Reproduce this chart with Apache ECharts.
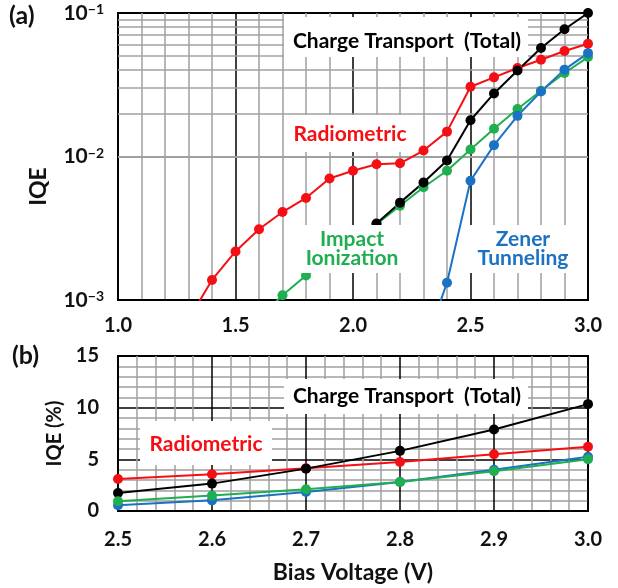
<!DOCTYPE html>
<html>
<head>
<meta charset="utf-8">
<script src="https://cdn.jsdelivr.net/npm/echarts@6/dist/echarts.min.js"></script>
<style>
html,body{margin:0;padding:0;background:#fff;}
#chart{width:618px;height:588px;}
</style>
</head>
<body>
<div id="chart"></div>
<script>
// ---------- data ----------
// (a) log-scale panel: bias voltage (V) and IQE (fraction)
const radiometricV = [1.3, 1.4, 1.5, 1.6, 1.7, 1.8, 1.9, 2.0, 2.1, 2.2, 2.3, 2.4, 2.5, 2.6, 2.7, 2.8, 2.9, 3.0];
const radiometricA = [7.3e-4, 1.38e-3, 2.18e-3, 3.11e-3, 4.1e-3, 5.14e-3, 7.03e-3, 7.96e-3, 8.83e-3, 8.97e-3, 1.10e-2, 1.49e-2, 3.06e-2, 3.56e-2, 4.14e-2, 4.72e-2, 5.43e-2, 6.1e-2];
const totalV = [2.1, 2.2, 2.3, 2.4, 2.5, 2.6, 2.7, 2.8, 2.9, 3.0];
const totalA = [3.41e-3, 4.77e-3, 6.59e-3, 9.37e-3, 1.79e-2, 2.75e-2, 3.97e-2, 5.7e-2, 7.7e-2, 1.0e-1];
const impactV = [1.6, 1.7, 1.8, 2.1, 2.2, 2.3, 2.4, 2.5, 2.6, 2.7, 2.8, 2.9, 3.0];
const impactA = [7.4e-4, 1.08e-3, 1.48e-3, 3.37e-3, 4.54e-3, 6.11e-3, 7.96e-3, 1.12e-2, 1.56e-2, 2.14e-2, 2.87e-2, 3.82e-2, 4.93e-2];
const zenerV = [2.3, 2.4, 2.5, 2.6, 2.7, 2.8, 2.9, 3.0];
const zenerA = [4.5e-4, 1.32e-3, 6.78e-3, 1.2e-2, 1.92e-2, 2.84e-2, 4.03e-2, 5.25e-2];
const logMinorValues = [2e-3, 3e-3, 4e-3, 5e-3, 6e-3, 7e-3, 8e-3, 9e-3, 2e-2, 3e-2, 4e-2, 5e-2, 6e-2, 7e-2, 8e-2, 9e-2];

// (b) linear panel: IQE (%)
const biasB = [2.5, 2.6, 2.7, 2.8, 2.9, 3.0];
const totalB = [1.75, 2.65, 4.1, 5.82, 7.89, 10.34];
const radiometricB = [3.10, 3.56, 4.14, 4.75, 5.5, 6.21];
const impactB = [0.94, 1.49, 2.1, 2.81, 3.85, 5.01];
const zenerB = [0.55, 1.03, 1.84, 2.81, 4.0, 5.24];

const zip = (xs, ys) => xs.map((x, i) => [x, ys[i]]);

// ---------- styles ----------
const FONT = 'Lato, "Open Sans", sans-serif';
const RED = '#f50f14', BLACK = '#000000', GREEN = '#1fae50', BLUE = '#1b72c4';
const MINOR = '#a0a0a0';

function lineSeries(name, data, color, xi, yi) {
  return {
    name, type: 'line', xAxisIndex: xi, yAxisIndex: yi, data,
    symbol: 'circle', symbolSize: 10, clip: true,
    itemStyle: { color }, lineStyle: { color, width: 2 },
    z: 5, animation: false
  };
}

const chart = echarts.init(document.getElementById('chart'), null, { renderer: 'canvas' });

const labelStyle = { color: '#111', fontFamily: FONT, fontWeight: 'bold', fontSize: 20 };

const option = {
  backgroundColor: '#fff',
  animation: false,
  grid: [
    { left: 118, top: 13, width: 470, height: 287, show: true, borderColor: '#000', borderWidth: 2, backgroundColor: '#fff' },
    { left: 118, top: 356, width: 470, height: 155, show: true, borderColor: '#000', borderWidth: 2, backgroundColor: '#fff' }
  ],
  xAxis: [
    {
      gridIndex: 0, type: 'value', min: 1, max: 3, interval: 0.5,
      axisLine: { show: true, lineStyle: { color: '#000', width: 2 } },
      axisTick: { show: false },
      axisLabel: Object.assign({ margin: 16, formatter: v => v.toFixed(1) }, labelStyle),
      splitLine: { show: true, lineStyle: { color: '#000', width: 1.5 } },
      minorTick: { show: false, splitNumber: 5 },
      minorSplitLine: { show: true, lineStyle: { color: MINOR, width: 1.5 } }
    },
    {
      gridIndex: 1, type: 'value', min: 2.5, max: 3.0, interval: 0.1,
      axisLine: { show: true, lineStyle: { color: '#000', width: 2 } },
      axisTick: { show: false },
      axisLabel: Object.assign({ margin: 19, formatter: v => v.toFixed(1) }, labelStyle),
      splitLine: { show: true, lineStyle: { color: '#000', width: 1.5 } },
      minorTick: { show: false, splitNumber: 5 },
      minorSplitLine: { show: true, lineStyle: { color: MINOR, width: 1.5 } },
      name: 'Bias Voltage (V)', nameLocation: 'middle', nameGap: 50,
      nameTextStyle: { color: '#111', fontFamily: FONT, fontWeight: 'bold', fontSize: 23 }
    }
  ],
  yAxis: [
    {
      gridIndex: 0, type: 'log', logBase: 10, min: 1e-3, max: 1e-1,
      axisLine: { show: true, lineStyle: { color: '#000', width: 2 } },
      axisTick: { show: false },
      axisLabel: {
        margin: 14,
        formatter: v => '{b|10}{s|\u2212' + Math.round(-Math.log10(v)) + '}',
        rich: {
          b: { fontFamily: FONT, fontWeight: 'bold', fontSize: 21, color: '#111' },
          s: { fontFamily: FONT, fontWeight: 'bold', fontSize: 14, color: '#111', verticalAlign: 'top' }
        }
      },
      splitLine: { show: true, lineStyle: { color: '#000', width: 1.5 } },
      name: 'IQE', nameLocation: 'middle', nameGap: 68, nameRotate: 90,
      nameTextStyle: { color: '#111', fontFamily: FONT, fontWeight: 'bold', fontSize: 23, padding: [0, 60, 0, 0] }
    },
    {
      gridIndex: 1, type: 'value', min: 0, max: 15, interval: 5,
      axisLine: { show: true, lineStyle: { color: '#000', width: 2 } },
      axisTick: { show: false },
      axisLabel: Object.assign({ margin: 19 }, labelStyle),
      splitLine: { show: true, lineStyle: { color: '#000', width: 1.5 } },
      minorTick: { show: false, splitNumber: 5 },
      minorSplitLine: { show: true, lineStyle: { color: MINOR, width: 1.5 } },
      name: 'IQE (%)', nameLocation: 'middle', nameGap: 50, nameRotate: 90,
      nameTextStyle: { color: '#111', fontFamily: FONT, fontWeight: 'bold', fontSize: 20 }
    }
  ],
  series: [
    {
      name: 'log-grid', type: 'line', xAxisIndex: 0, yAxisIndex: 0,
      data: [[1, 0.01]], symbol: 'none', lineStyle: { opacity: 0 }, silent: true, z: 1,
      markLine: {
        silent: true, symbol: 'none', animation: false,
        label: { show: false },
        lineStyle: { color: MINOR, width: 1.5, type: 'solid' },
        data: logMinorValues.map(v => ({ yAxis: v }))
      }
    },
    lineSeries('Radiometric', zip(radiometricV, radiometricA), RED, 0, 0),
    lineSeries('Impact Ionization', zip(impactV, impactA), GREEN, 0, 0),
    lineSeries('Zener Tunneling', zip(zenerV, zenerA), BLUE, 0, 0),
    lineSeries('Charge Transport (Total)', zip(totalV, totalA), BLACK, 0, 0),
    lineSeries('Radiometric (b)', zip(biasB, radiometricB), RED, 1, 1),
    lineSeries('Charge Transport (b)', zip(biasB, totalB), BLACK, 1, 1),
    lineSeries('Zener Tunneling (b)', zip(biasB, zenerB), BLUE, 1, 1),
    lineSeries('Impact Ionization (b)', zip(biasB, impactB), GREEN, 1, 1)
  ],
  graphic: [
    { type: 'text', left: 9, top: 3, z: 100, style: { text: '(a)', fill: '#111', font: 'bold 25px ' + FONT } },
    { type: 'text', left: 12, top: 343, z: 100, style: { text: '(b)', fill: '#111', font: 'bold 25px ' + FONT } },
    // top panel annotations
    { type: 'rect', z: 90, shape: { x: 284, y: 17, width: 244, height: 40 }, style: { fill: '#fff' } },
    { type: 'text', z: 100, x: 407, y: 41, style: { text: 'Charge Transport  (Total)', fill: BLACK, font: 'bold 21px ' + FONT, textAlign: 'center', textVerticalAlign: 'middle' } },
    { type: 'rect', z: 90, shape: { x: 284, y: 115, width: 129, height: 37 }, style: { fill: '#fff' } },
    { type: 'text', z: 100, x: 350, y: 134, style: { text: 'Radiometric', fill: RED, font: 'bold 21px ' + FONT, textAlign: 'center', textVerticalAlign: 'middle' } },
    { type: 'rect', z: 90, shape: { x: 295, y: 225, width: 110, height: 48 }, style: { fill: '#fff' } },
    { type: 'text', z: 100, x: 352, y: 249, style: { text: 'Impact\nIonization', fill: GREEN, font: 'bold 21px ' + FONT, textAlign: 'center', textVerticalAlign: 'middle', lineHeight: 19 } },
    { type: 'rect', z: 90, shape: { x: 468, y: 225, width: 110, height: 48 }, style: { fill: '#fff' } },
    { type: 'text', z: 100, x: 523, y: 249, style: { text: 'Zener\nTunneling', fill: BLUE, font: 'bold 21px ' + FONT, textAlign: 'center', textVerticalAlign: 'middle', lineHeight: 19 } },
    // bottom panel annotations
    { type: 'rect', z: 90, shape: { x: 284, y: 379, width: 244, height: 35 }, style: { fill: '#fff' } },
    { type: 'text', z: 100, x: 407, y: 396, style: { text: 'Charge Transport  (Total)', fill: BLACK, font: 'bold 21px ' + FONT, textAlign: 'center', textVerticalAlign: 'middle' } },
    { type: 'rect', z: 90, shape: { x: 140, y: 421, width: 132, height: 44 }, style: { fill: '#fff' } },
    { type: 'text', z: 100, x: 206, y: 444, style: { text: 'Radiometric', fill: RED, font: 'bold 21px ' + FONT, textAlign: 'center', textVerticalAlign: 'middle' } }
  ]
};
chart.setOption(option);
</script>
</body>
</html>
